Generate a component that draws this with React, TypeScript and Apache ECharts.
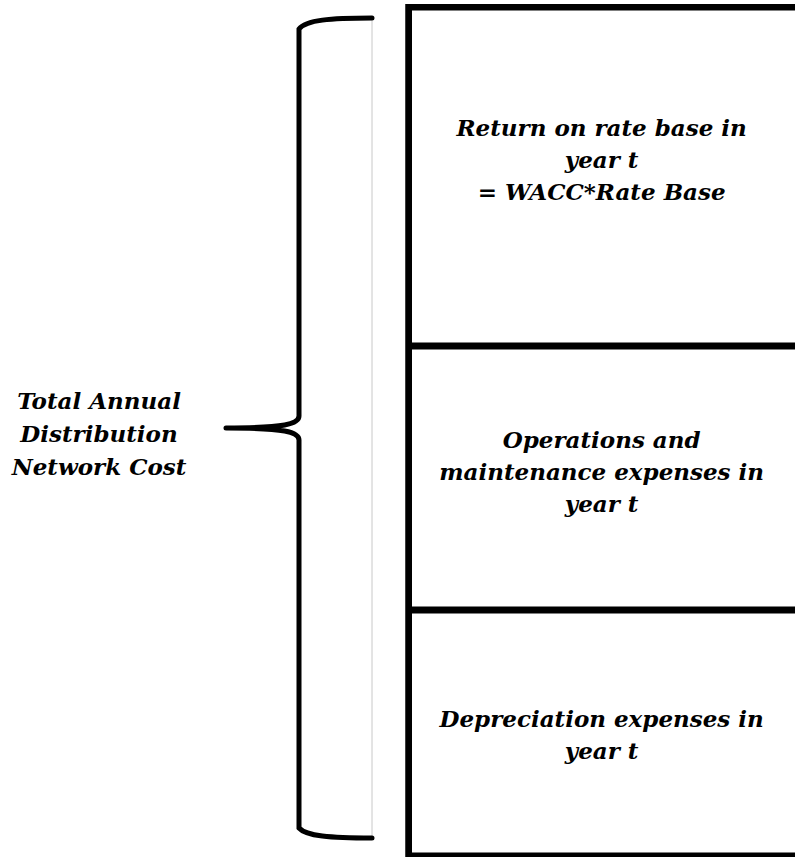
import React, { useEffect, useRef } from "react";
import * as echarts from "echarts";

// Segment labels, bottom to top
const segmentLabels = [
  "Depreciation expenses in\nyear t",
  "Operations and\nmaintenance expenses in\nyear t",
  "Return on rate base in\nyear t\n= WACC*Rate Base",
];
// Relative heights of the stacked components (diagram units)
const segmentHeights = [249, 264, 342];
const categories = ["Cost"];
const totalLabel = "Total Annual\nDistribution\nNetwork Cost";

const BRACE_D =
  "M 372 18 C 330 18 306 20 299 29 L 299 416 C 299 424 285 428 226 428 " +
  "M 226 428 C 285 428 299 432 299 440 L 299 828 C 306 836 330 838 372 838";

let registered = false;
function ensureShape() {
  if (registered) return;
  echarts.graphic.registerShape("brace", echarts.graphic.extendPath(BRACE_D, {}) as any);
  registered = true;
}

const FONT = "DejaVu Serif";
const FONT_SIZE = 23;
const CHART_W = 820;
const CHART_H = 870;

export default function App() {
  const ref = useRef<HTMLDivElement>(null);
  useEffect(() => {
    if (!ref.current) return;
    ensureShape();
    const chart = echarts.init(ref.current, null, { renderer: "svg" });
    const labelY = ["50.2%", "47.4%", "45.4%"];
    const total = segmentHeights.reduce((a, b) => a + b, 0);
    const segSeries = segmentLabels.map((lbl, i) => ({
      type: "bar",
      stack: "total",
      barWidth: "100%",
      barGap: "-100%",
      data: [segmentHeights[i]],
      itemStyle: { color: "#ffffff", borderColor: "#000000", borderWidth: 3.5 },
      label: {
        show: true,
        position: ["49.4%", labelY[i]],
        align: "center",
        verticalAlign: "middle",
        formatter: () => lbl,
        fontFamily: FONT,
        fontStyle: "italic",
        fontWeight: "bold",
        fontSize: FONT_SIZE,
        lineHeight: 32,
        color: "#000000",
      },
      z: 2,
    }));
    chart.setOption({
      animation: false,
      backgroundColor: "#ffffff",
      grid: {
        left: 405.5,
        right: CHART_W - 802.5,
        top: 4,
        bottom: CHART_H - 859,
        containLabel: false,
      },
      xAxis: { type: "category", data: categories, show: false },
      yAxis: { type: "value", min: 0, max: total, show: false },
      series: [
        ...segSeries,
        {
          type: "bar",
          stack: "outline",
          barWidth: "100%",
          barGap: "-100%",
          data: [total],
          itemStyle: { color: "rgba(0,0,0,0)", borderColor: "#000000", borderWidth: 6.5 },
          silent: true,
          z: 3,
        },
      ],
      graphic: [
        {
          type: "line",
          shape: { x1: 372, y1: 17, x2: 372, y2: 839 },
          style: { stroke: "#c8c8c8", lineWidth: 1 },
          silent: true,
        },
        {
          type: "brace",
          x: 0,
          y: 0,
          style: { fill: "none", stroke: "#000000", lineWidth: 5, lineCap: "round" },
          silent: true,
        },
        {
          type: "text",
          x: 99,
          y: 433,
          style: {
            text: totalLabel,
            align: "center",
            verticalAlign: "middle",
            fontFamily: FONT,
            fontStyle: "italic",
            fontWeight: "bold",
            fontSize: FONT_SIZE,
            lineHeight: 33,
            fill: "#000000",
          },
        },
      ],
    });
    return () => chart.dispose();
  }, []);
  return (
    <div
      style={{
        position: "absolute",
        left: 0,
        top: 0,
        width: 795,
        height: 857,
        overflow: "hidden",
        background: "#ffffff",
      }}
    >
      <div ref={ref} style={{ width: CHART_W, height: CHART_H }} />
    </div>
  );
}
